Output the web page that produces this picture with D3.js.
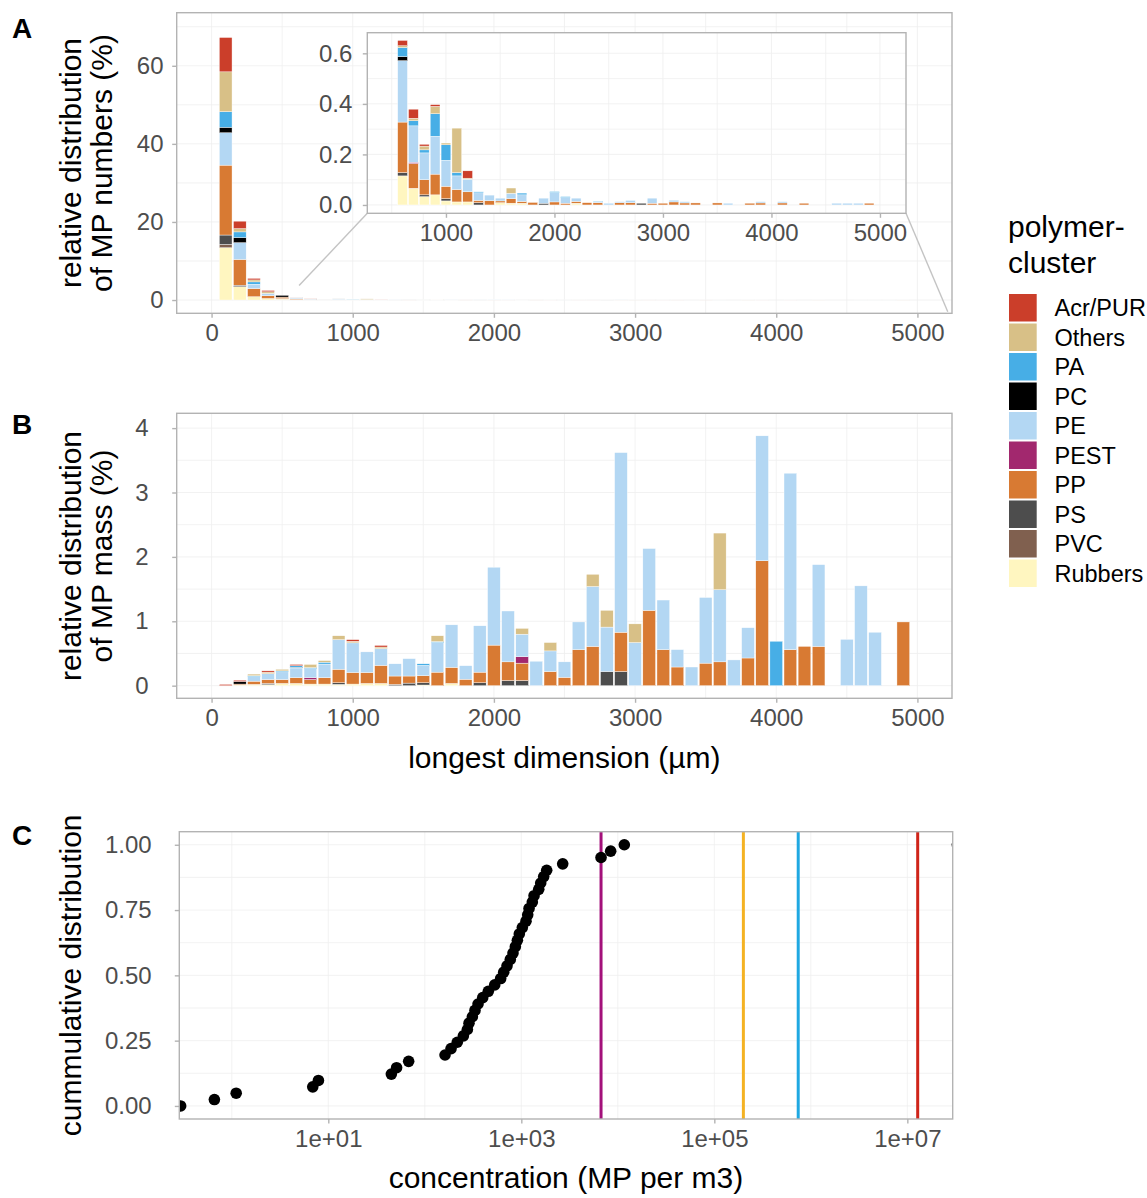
<!DOCTYPE html>
<html>
<head>
<meta charset="utf-8">
<script src="https://cdn.jsdelivr.net/npm/d3@7"></script>
<style>
body { margin: 0; background: #fff; }
svg { display: block; font-family: "Liberation Sans", Arial, sans-serif; }
</style>
</head>
<body>
<script>
// polymer clusters, legend order (first one sits on top of the stack)
const polymers = ["Acr/PUR", "Others", "PA", "PC", "PE", "PEST", "PP", "PS", "PVC", "Rubbers"]
const polymerColors = ["#CB3E2A", "#D8C087", "#47AEE6", "#000000", "#B3D7F3", "#A2286E", "#D87A33", "#4D4D4D", "#80604F", "#FFF6C0"]

// A: share of MP numbers (%) per 100 µm size class
// columns: size, Acr/PUR, Others, PA, PC, PE, PEST, PP, PS, PVC, Rubbers
const numberShares = [
    [100, 8.8, 10.2, 4.0, 1.4, 8.3, 0, 17.9, 2.4, 0.85, 13.4],
    [200, 1.9, 0.85, 1.45, 1.3, 4.3, 0, 6.6, 0.4, 0, 3.4],
    [300, 0.4, 0.5, 0.6, 0, 1.1, 0, 2.1, 0, 0, 0.85],
    [400, 0.35, 0.4, 0, 0, 0.6, 0, 0.7, 0, 0, 0.4],
    [500, 0, 0, 0, 0.45, 0, 0, 0.4, 0.1, 0, 0.25],
    [600, .021, .007, .036, .016, .243, 0, .200, .013, 0, .115],
    [700, .036, .010, .020, 0, .144, .005, .098, 0, 0, .066],
    [800, .007, .015, .012, 0, .106, 0, .060, .007, 0, .033],
    [900, .007, .029, .089, 0, .150, 0, .082, 0, 0, .040],
    [1000, 0, .007, .061, 0, .103, 0, .049, .009, 0, .016],
    [1100, 0, .176, .013, 0, .054, 0, .049, 0, 0, .012],
    [1200, .029, .004, 0, 0, .050, 0, .040, 0, 0, .012],
    [1300, 0, 0, .004, 0, .030, 0, .009, .009, 0, 0],
    [1400, 0, 0, 0, 0, .022, 0, .017, 0, 0, 0],
    [1500, 0, 0, 0, 0, .011, 0, .007, 0, 0, .009],
    [1600, 0, .021, 0, 0, .021, 0, .018, 0, 0, .007],
    [1700, 0, 0, .007, 0, .026, 0, .007, 0, 0, .007],
    [1800, 0, 0, 0, 0, 0, 0, .010, 0, 0, 0],
    [1900, 0, 0, 0, 0, .020, 0, 0, .007, 0, 0],
    [2000, 0, 0, .004, 0, .037, 0, .012, 0, 0, 0],
    [2100, 0, 0, .004, 0, .022, 0, .007, 0, 0, 0],
    [2200, 0, 0, 0, 0, .013, 0, .007, 0, 0, .007],
    [2300, 0, 0, 0, 0, 0, 0, .009, 0, 0, 0],
    [2400, 0, 0, .003, 0, .003, 0, .009, 0, 0, 0],
    [2500, 0, 0, 0, 0, .007, 0, 0, 0, 0, 0],
    [2600, 0, 0, 0, 0, .004, 0, .009, 0, 0, 0],
    [2700, 0, 0, 0, 0, .009, 0, .009, 0, 0, 0],
    [2800, 0, 0, 0, 0, 0, 0, 0, .007, 0, 0],
    [2900, 0, 0, 0, 0, .020, 0, .007, 0, 0, 0],
    [3000, 0, 0, 0, 0, 0, 0, .007, 0, 0, 0],
    [3100, 0, 0, 0, 0, .007, 0, .012, 0, 0, 0],
    [3200, 0, 0, 0, 0, .005, 0, .008, 0, 0, 0],
    [3300, 0, 0, 0, 0, 0, 0, .008, 0, 0, 0],
    [3500, 0, 0, 0, 0, 0, 0, .008, 0, 0, 0],
    [3600, 0, 0, 0, 0, .007, 0, 0, 0, 0, 0],
    [3800, 0, 0, 0, 0, 0, 0, .007, 0, 0, 0],
    [3900, 0, 0, 0, 0, .005, 0, .008, 0, 0, 0],
    [4100, 0, 0, 0, 0, .005, 0, .008, 0, 0, 0],
    [4300, 0, 0, 0, 0, 0, 0, .007, 0, 0, 0],
    [4600, 0, 0, 0, 0, .007, 0, 0, 0, 0, 0],
    [4700, 0, 0, 0, 0, .007, 0, 0, 0, 0, 0],
    [4800, 0, 0, 0, 0, .007, 0, 0, 0, 0, 0],
    [4900, 0, 0, 0, 0, 0, 0, .007, 0, 0, 0],
]

// B: share of MP mass (%), same columns
const massShares = [
    [100, .02, 0, 0, 0, 0, 0, 0, 0, 0, 0],
    [200, .02, 0, 0, .04, 0, 0, .015, 0, 0, .01],
    [300, 0, .025, .015, 0, .07, 0, .05, 0, 0, .02],
    [400, .02, .025, 0, 0, .09, 0, .06, .02, 0, .015],
    [500, 0, .025, .015, 0, .12, 0, .06, 0, 0, .035],
    [600, .02, 0, .025, .01, .15, 0, .09, 0, 0, .035],
    [700, 0, .05, .015, 0, .14, .03, .07, 0, 0, .025],
    [800, 0, .025, .03, 0, .21, 0, .10, 0, 0, .025],
    [900, 0, .06, 0, 0, .46, 0, .21, .025, 0, .02],
    [1000, .025, .025, 0, 0, .46, 0, .18, 0, 0, .025],
    [1100, 0, 0, 0, 0, .32, 0, .17, 0, 0, .035],
    [1200, .025, .025, 0, 0, .26, 0, .28, 0, 0, .035],
    [1300, 0, 0, 0, 0, .19, 0, .13, .02, 0, 0],
    [1400, 0, 0, 0, 0, .27, 0, .11, .04, 0, 0],
    [1500, 0, 0, .025, 0, .16, 0, .11, .035, 0, .01],
    [1600, 0, .09, .015, 0, .46, 0, .21, 0, 0, 0],
    [1700, 0, 0, 0, 0, .66, 0, .25, 0, 0, .035],
    [1800, 0, 0, 0, 0, .21, 0, .10, 0, 0, 0],
    [1900, 0, 0, 0, 0, .72, 0, .165, .045, 0, 0],
    [2000, 0, 0, 0, 0, 1.21, 0, .63, 0, 0, 0],
    [2100, 0, 0, 0, 0, .79, 0, .29, .08, 0, 0],
    [2200, 0, .09, 0, 0, .35, .10, .27, .08, 0, 0],
    [2300, 0, 0, 0, 0, .38, 0, 0, 0, 0, 0],
    [2400, 0, .13, 0, 0, .32, 0, .22, 0, 0, 0],
    [2500, 0, 0, 0, 0, .24, 0, .13, 0, 0, 0],
    [2600, 0, 0, 0, 0, .43, 0, .56, 0, 0, 0],
    [2700, 0, .19, 0, 0, .93, 0, .61, 0, 0, 0],
    [2800, 0, .26, 0, 0, .69, 0, 0, .22, 0, 0],
    [2900, 0, 0, 0, 0, 2.79, 0, .61, .22, 0, 0],
    [3000, 0, .29, 0, 0, .67, 0, 0, 0, 0, 0],
    [3100, 0, 0, 0, 0, .96, 0, 1.17, 0, 0, 0],
    [3200, 0, 0, 0, 0, .77, 0, .56, 0, 0, 0],
    [3300, 0, 0, 0, 0, .27, 0, .29, 0, 0, 0],
    [3400, 0, 0, 0, 0, .29, 0, 0, 0, 0, 0],
    [3500, 0, 0, 0, 0, 1.02, 0, .35, 0, 0, 0],
    [3600, 0, .88, 0, 0, 1.12, 0, .37, 0, 0, 0],
    [3700, 0, 0, 0, 0, .40, 0, 0, 0, 0, 0],
    [3800, 0, 0, 0, 0, .47, 0, .43, 0, 0, 0],
    [3900, 0, 0, 0, 0, 1.94, 0, 1.94, 0, 0, 0],
    [4000, 0, 0, .69, 0, 0, 0, 0, 0, 0, 0],
    [4100, 0, 0, 0, 0, 2.74, 0, .56, 0, 0, 0],
    [4200, 0, 0, 0, 0, 0, 0, .61, 0, 0, 0],
    [4300, 0, 0, 0, 0, 1.27, 0, .61, 0, 0, 0],
    [4500, 0, 0, 0, 0, .72, 0, 0, 0, 0, 0],
    [4600, 0, 0, 0, 0, 1.55, 0, 0, 0, 0, 0],
    [4700, 0, 0, 0, 0, .83, 0, 0, 0, 0, 0],
    [4900, 0, 0, 0, 0, 0, 0, .99, 0, 0, 0],
]

// C: measured concentrations (MP per m3), sorted
const concentrations = [0.295, 0.66, 1.11, 6.9, 7.9, 45, 51, 68, 162, 187, 217, 251, 276, 287,
    311, 331, 356, 398, 455, 530, 611, 657, 711, 769, 820, 867, 910, 953, 1024, 1118, 1165,
    1202, 1300, 1355, 1515, 1588, 1706, 1832, 2685, 6700, 8430, 11670]
const edgeConcentrations = [3.3e7]   // sits just outside the right border
const refValues = [6700, 2.0e5, 7.4e5, 1.28e7]
const refColors = ["#A3107A", "#F4B223", "#1FA8E2", "#CF2419"]

const stackKeys = polymers.slice().reverse()
const color = d3.scaleOrdinal().domain(polymers).range(polymerColors)
const toRows = table => table.map(r => {
    const o = {size: r[0]}
    polymers.forEach((p, i) => o[p] = r[i + 1])
    return o
})

const W = 1147, H = 1198
const svg = d3.select("body").append("svg").attr("width", W).attr("height", H)

const GREY_TXT = "#4D4D4D", GREY_LINE = "#B3B3B3"

function grid(g, x, y, xt, yt, box) {
    g.append("g").selectAll("line").data(xt).join("line")
        .attr("x1", d => x(d)).attr("x2", d => x(d))
        .attr("y1", box.top).attr("y2", box.bottom)
        .attr("stroke", "#EFEFEF").attr("stroke-width", 0.8)
    g.append("g").selectAll("line").data(yt).join("line")
        .attr("y1", d => y(d)).attr("y2", d => y(d))
        .attr("x1", box.left).attr("x2", box.right)
        .attr("stroke", "#EFEFEF").attr("stroke-width", 0.8)
}

function border(g, box) {
    g.append("rect")
        .attr("x", box.left).attr("y", box.top)
        .attr("width", box.right - box.left).attr("height", box.bottom - box.top)
        .attr("fill", "none").attr("stroke", GREY_LINE).attr("stroke-width", 1.4)
}

function styleAxis(a) {
    a.select(".domain").remove()
    a.selectAll(".tick line").attr("stroke", GREY_LINE).attr("stroke-width", 1.4)
    a.selectAll(".tick text").attr("fill", GREY_TXT).attr("font-size", 24)
        .attr("font-family", "Liberation Sans, Arial, sans-serif")
}

function axes(g, x, y, box, o) {
    g.append("g").attr("transform", `translate(0,${box.bottom})`)
        .call(d3.axisBottom(x).tickValues(o.xt).tickSize(4.5).tickPadding(6).tickFormat(o.xf || d3.format("d")))
        .call(styleAxis)
    g.append("g").attr("transform", `translate(${box.left},0)`)
        .call(d3.axisLeft(y).tickValues(o.yt).tickSize(4.5).tickPadding(o.ypad).tickFormat(o.yf || d3.format("d")))
        .call(styleAxis)
}

function bars(g, rows, x, y) {
    const series = d3.stack().keys(stackKeys)(rows)
    g.append("g").selectAll("g").data(series).join("g")
        .attr("fill", d => color(d.key))
        .selectAll("rect").data(d => d.filter(s => s[1] - s[0] > 0)).join("rect")
            .attr("x", d => x(d.data.size - 45))
            .attr("width", d => x(d.data.size + 45) - x(d.data.size - 45))
            .attr("y", d => y(d[1]))
            .attr("height", d => y(d[0]) - y(d[1]))
            .attr("stroke", "white").attr("stroke-width", 0.4)
}

function clip(id, box) {
    svg.append("clipPath").attr("id", id).append("rect")
        .attr("x", box.left).attr("y", box.top)
        .attr("width", box.right - box.left).attr("height", box.bottom - box.top)
}

function letter(t, x, y) {
    svg.append("text").attr("x", x).attr("y", y).text(t)
        .attr("font-size", 28).attr("font-weight", "bold")
}

function yTitle(lines, cy) {
    const t = svg.append("g")
    lines.forEach((l, i) => {
        t.append("text")
            .attr("transform", `translate(${81 + i * 31},${cy}) rotate(-90)`)
            .attr("text-anchor", "middle").attr("font-size", 30).text(l)
    })
}

// ---------- panel A ----------
const boxA = {left: 176.7, right: 952, top: 12.7, bottom: 313.3}
const xA = d3.scaleLinear().domain([-247, 5245]).range([boxA.left, boxA.right])
const yA = d3.scaleLinear().domain([-3.4, 73.6]).range([boxA.bottom, boxA.top])
const gA = svg.append("g")
clip("clipA", boxA)
grid(gA, xA, yA, d3.range(0, 5001, 500), d3.range(0, 71, 10), boxA)
bars(gA.append("g").attr("clip-path", "url(#clipA)"), toRows(numberShares), xA, yA)
border(gA, boxA)
axes(gA, xA, yA, boxA, {xt: d3.range(0, 5001, 1000), yt: [0, 20, 40, 60], ypad: 8.7})

// inset of A
const boxI = {left: 367.3, right: 906, top: 32.7, bottom: 213.3}
const xI = d3.scaleLinear().domain([275, 5240]).range([boxI.left, boxI.right])
const yI = d3.scaleLinear().domain([-0.033, 0.6816]).range([boxI.bottom, boxI.top])
const zoomFrom = [[620, 3.7], [5215, -3.0]]   // where the zoom lines meet the main panel
gA.append("g").selectAll("line").data(zoomFrom).join("line")
    .attr("x1", (d, i) => i ? boxI.right : boxI.left).attr("y1", boxI.bottom)
    .attr("x2", d => xA(d[0])).attr("y2", d => yA(d[1]))
    .attr("stroke", "#C4C4C4").attr("stroke-width", 1.4)
const gI = svg.append("g")
gI.append("rect").attr("x", boxI.left).attr("y", boxI.top)
    .attr("width", boxI.right - boxI.left).attr("height", boxI.bottom - boxI.top).attr("fill", "white")
clip("clipI", boxI)
grid(gI, xI, yI, d3.range(500, 5001, 500), d3.range(0, 0.61, 0.1), boxI)
bars(gI.append("g").attr("clip-path", "url(#clipI)"),
    toRows(numberShares.filter(r => r[0] >= 600)), xI, yI)
border(gI, boxI)
axes(gI, xI, yI, boxI, {xt: [1000, 2000, 3000, 4000, 5000], yt: [0, 0.2, 0.4, 0.6], ypad: 10.5, yf: d3.format(".1f")})

letter("A", 12, 38)
yTitle(["relative distribution", "of MP numbers (%)"], 163)

// ---------- panel B ----------
const boxB = {left: 176.7, right: 952, top: 413.3, bottom: 698.3}
const xB = d3.scaleLinear().domain([-247, 5245]).range([boxB.left, boxB.right])
const yB = d3.scaleLinear().domain([-0.196, 4.23]).range([boxB.bottom, boxB.top])
const gB = svg.append("g")
clip("clipB", boxB)
grid(gB, xB, yB, d3.range(0, 5001, 500), d3.range(0, 4.1, 0.5), boxB)
bars(gB.append("g").attr("clip-path", "url(#clipB)"), toRows(massShares), xB, yB)
border(gB, boxB)
axes(gB, xB, yB, boxB, {xt: d3.range(0, 5001, 1000), yt: [0, 1, 2, 3, 4], ypad: 23.7})
letter("B", 12, 434)
yTitle(["relative distribution", "of MP mass (%)"], 556)
svg.append("text").attr("x", (boxB.left + boxB.right) / 2).attr("y", 768)
    .attr("text-anchor", "middle").attr("font-size", 30).text("longest dimension (µm)")

// ---------- panel C ----------
const boxC = {left: 179.3, right: 952.7, top: 831.7, bottom: 1119}
const xC = d3.scaleLog().domain([Math.pow(10, -0.544), Math.pow(10, 7.47)]).range([boxC.left, boxC.right])
const yC = d3.scaleLinear().domain([-0.05, 1.05]).range([boxC.bottom, boxC.top])
const gC = svg.append("g")
clip("clipC", boxC)
grid(gC, xC, yC, [1, 10, 100, 1e3, 1e4, 1e5, 1e6, 1e7], d3.range(0, 1.01, 0.125), boxC)
const pc = gC.append("g").attr("clip-path", "url(#clipC)")
pc.selectAll("line.ref").data(refValues).join("line").attr("class", "ref")
    .attr("x1", d => xC(d)).attr("x2", d => xC(d))
    .attr("y1", boxC.top).attr("y2", boxC.bottom)
    .attr("stroke", (d, i) => refColors[i]).attr("stroke-width", 3)
const n = concentrations.length
const pts = concentrations.map((c, i) => ({c, p: i / (n - 1)}))
    .concat(edgeConcentrations.map(c => ({c, p: 1})))
pc.selectAll("circle").data(pts).join("circle")
    .attr("cx", d => xC(d.c)).attr("cy", d => yC(d.p)).attr("r", 5.8).attr("fill", "black")
border(gC, boxC)
axes(gC, xC, yC, boxC, {
    xt: [10, 1e3, 1e5, 1e7], yt: [0, 0.25, 0.5, 0.75, 1], ypad: 23.2,
    xf: v => "1e+" + String(Math.round(Math.log10(v))).padStart(2, "0"),
    yf: d3.format(".2f")
})
letter("C", 12, 845)
yTitle(["cummulative distribution"], (boxC.top + boxC.bottom) / 2)
svg.append("text").attr("x", (boxC.left + boxC.right) / 2).attr("y", 1188)
    .attr("text-anchor", "middle").attr("font-size", 30).text("concentration (MP per m3)")

// ---------- legend ----------
const lg = svg.append("g").attr("transform", "translate(1008,0)")
lg.append("text").attr("y", 237).attr("font-size", 30).text("polymer-")
lg.append("text").attr("y", 273).attr("font-size", 30).text("cluster")
const item = lg.selectAll("g.item").data(polymers).join("g").attr("class", "item")
    .attr("transform", (d, i) => `translate(0,${294 + i * 29.5})`)
item.append("rect").attr("x", 1).attr("width", 27.7).attr("height", 27.5).attr("fill", d => color(d))
item.append("text").attr("x", 46.5).attr("y", 22).attr("font-size", 23.5).text(d => d)
</script>
</body>
</html>
